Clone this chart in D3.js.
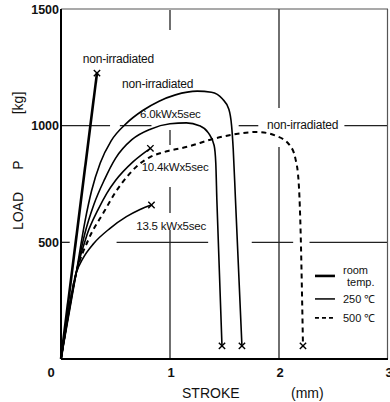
<!DOCTYPE html>
<html lang="en">
<head>
    <meta charset="UTF-8">
    <title>Load - stroke</title>
    <script src="https://d3js.org/d3.v7.min.js"></script>
    <style>
        body { margin: 0; background: #fff; }
        text {
            font-family: 'Liberation Sans', Arial, sans-serif;
            fill: #111;
        }
    </style>
</head>
<body>

<script>
    const width  = 390;
    const height = 402;
    const margin = {top: 9, right: 2, bottom: 43, left: 61};

    // curves, [stroke mm, load kg]
    const roomTemp   = [[0, 0], [0.33, 1225]];
    const nonIrr250  = [[0, 0], [0.14, 370], [0.22, 590], [0.28, 720], [0.36, 840], [0.46, 935], [0.6, 1010],
                        [0.75, 1065], [0.9, 1105], [1.05, 1132], [1.25, 1148], [1.38, 1143], [1.48, 1115],
                        [1.54, 1070], [1.565, 1000], [1.58, 900], [1.6, 690], [1.66, 56]];
    const kw60       = [[0, 0], [0.14, 370], [0.22, 540], [0.3, 660], [0.4, 770], [0.5, 860], [0.65, 940],
                        [0.82, 985], [1.0, 1008], [1.15, 1012], [1.27, 1000], [1.35, 970], [1.405, 915],
                        [1.42, 840], [1.43, 680], [1.477, 56]];
    const kw104      = [[0, 0], [0.14, 370], [0.24, 535], [0.34, 640], [0.42, 710], [0.5, 765], [0.66, 845],
                        [0.82, 903]];
    const kw135      = [[0, 0], [0.14, 370], [0.2, 430], [0.3, 495], [0.45, 560], [0.6, 610], [0.72, 640],
                        [0.83, 660]];
    const nonIrr500  = [[0, 0], [0.14, 370], [0.25, 510], [0.4, 635], [0.5, 715], [0.6, 778], [0.71, 832],
                        [0.82, 866], [0.97, 890], [1.18, 912], [1.37, 940], [1.58, 962], [1.8, 973],
                        [1.98, 955], [2.1, 915], [2.15, 860], [2.18, 760], [2.195, 600], [2.22, 56]];

    // fracture points marked with x
    const breaks = [[0.33, 1225], [0.82, 903], [0.83, 660], [1.477, 56], [1.66, 56], [2.22, 56]];

    const xTicks = [0, 1, 2, 3];
    const yTicks = [500, 1000, 1500];

    // grid pieces (broken where curves and labels pass)
    const hGrid = [
        {load: 1000, from: 0,    to: 0.45},
        {load: 1000, from: 0.54, to: 0.83},
        {load: 1000, from: 1.63, to: 1.81},
        {load: 1000, from: 2.6,  to: 3},
        {load: 500,  from: 0,    to: 0.08},
        {load: 500,  from: 0.51, to: 1.35},
        {load: 500,  from: 1.75, to: 2.13},
        {load: 500,  from: 2.28, to: 3}
    ];
    const vGrid = [
        {stroke: 1, from: 1410, to: 1496},
        {stroke: 1, from: 917,  to: 981},
        {stroke: 1, from: 626,  to: 737},
        {stroke: 1, from: 0,    to: 553},
        {stroke: 2, from: 1076, to: 1500},
        {stroke: 2, from: 0,    to: 909}
    ];

    const labels = [
        {text: "non-irradiated", x: 0.2,  y: 1269, size: 12},
        {text: "non-irradiated", x: 0.56, y: 1161, size: 12},
        {text: "6.0kWx5sec",     x: 0.725, y: 1033, size: 11.5},
        {text: "10.4kWx5sec",    x: 0.74, y: 805, size: 11.5},
        {text: "13.5 kWx5sec",   x: 0.69, y: 553, size: 11.5},
        {text: "non-irradiated", x: 1.89, y: 986, size: 12}
    ];

    const legendNames = ["room", "250 \u2103", "500 \u2103"];

    const scaleX = d3.scaleLinear()
                     .domain([0, 3])
                     .range([margin.left, width - margin.right]);

    const scaleY = d3.scaleLinear()
                     .domain([0, 1500])
                     .range([height - margin.bottom, margin.top]);

    const svg = d3.select("body")
                  .append("svg").attr("width", width).attr("height", height);

    // grid
    svg.selectAll(".hgrid").data(hGrid).enter().append("line")
        .attr("x1", d => scaleX(d.from)).attr("x2", d => scaleX(d.to))
        .attr("y1", d => scaleY(d.load)).attr("y2", d => scaleY(d.load))
        .attr("stroke", "#222").attr("stroke-width", 1.3);

    svg.selectAll(".vgrid").data(vGrid).enter().append("line")
        .attr("x1", d => scaleX(d.stroke)).attr("x2", d => scaleX(d.stroke))
        .attr("y1", d => scaleY(d.from)).attr("y2", d => scaleY(d.to))
        .attr("stroke", "#222").attr("stroke-width", 1.3);

    // frame
    svg.append("line")
        .attr("x1", scaleX(0)).attr("x2", scaleX(3))
        .attr("y1", scaleY(1500)).attr("y2", scaleY(1500))
        .attr("stroke", "#555").attr("stroke-width", 1.2);
    svg.append("line")
        .attr("x1", scaleX(3) - 0.5).attr("x2", scaleX(3) - 0.5)
        .attr("y1", scaleY(1500)).attr("y2", scaleY(0))
        .attr("stroke", "#555").attr("stroke-width", 1.2);
    svg.append("line")
        .attr("x1", scaleX(0)).attr("x2", scaleX(0))
        .attr("y1", scaleY(1500)).attr("y2", scaleY(0))
        .attr("stroke", "#000").attr("stroke-width", 2);
    svg.append("line")
        .attr("x1", scaleX(0)).attr("x2", scaleX(3))
        .attr("y1", scaleY(0)).attr("y2", scaleY(0))
        .attr("stroke", "#000").attr("stroke-width", 2);

    // tick labels
    svg.selectAll(".xt").data(xTicks).enter().append("text")
        .text(d => d)
        .attr("x", d => d === 0 ? scaleX(d) - 10 : scaleX(d) + 1)
        .attr("y", scaleY(0) + 18)
        .attr("text-anchor", "middle")
        .style("font-size", "13px")
        .style("font-weight", "bold");

    svg.selectAll(".yt").data(yTicks).enter().append("text")
        .text(d => d)
        .attr("x", scaleX(0) - 2)
        .attr("y", d => scaleY(d))
        .attr("dy", "0.36em")
        .attr("text-anchor", "end")
        .style("font-size", "12.5px")
        .style("font-weight", "bold");

    // curves
    const line = d3.line()
                   .x(d => scaleX(d[0]))
                   .y(d => scaleY(d[1]))
                   .curve(d3.curveMonotoneX);

    const curves = [
        {data: roomTemp,  w: 2.6, dash: null},
        {data: nonIrr250, w: 1.6, dash: null},
        {data: kw60,      w: 1.6, dash: null},
        {data: kw104,     w: 1.6, dash: null},
        {data: kw135,     w: 1.6, dash: null},
        {data: nonIrr500, w: 2,   dash: "5,4"}
    ];

    svg.selectAll(".curve").data(curves).enter().append("path")
        .attr("d", d => line(d.data))
        .attr("fill", "none")
        .attr("stroke", "#000")
        .attr("stroke-width", d => d.w)
        .attr("stroke-dasharray", d => d.dash);

    svg.selectAll(".brk").data(breaks).enter().append("path")
        .attr("d", d3.symbol().type(d3.symbolX).size(28))
        .attr("transform", d => "translate(" + [scaleX(d[0]), scaleY(d[1])] + ")")
        .attr("fill", "none")
        .attr("stroke", "#000")
        .attr("stroke-width", 1.4);

    // labels
    svg.selectAll(".lbl").data(labels).enter().append("text")
        .text(d => d.text)
        .attr("x", d => scaleX(d.x))
        .attr("y", d => scaleY(d.y))
        .style("font-size", d => d.size + "px")
        .style("letter-spacing", "-0.2px");

    // legend
    const lg = svg.append("g").attr("transform", "translate(" + [scaleX(2.33), scaleY(356)] + ")");
    const legendStyle = [{w: 2.6, dash: null}, {w: 1.5, dash: null}, {w: 1.8, dash: "4,3"}];
    const legendY = [0, 23, 42];
    legendStyle.forEach((s, i) => {
        lg.append("line")
            .attr("x1", 0).attr("x2", 20)
            .attr("y1", legendY[i]).attr("y2", legendY[i])
            .attr("stroke", "#000").attr("stroke-width", s.w)
            .attr("stroke-dasharray", s.dash);
        lg.append("text")
            .text(legendNames[i])
            .attr("x", 28)
            .attr("y", legendY[i] + (i === 0 ? -2 : 4))
            .style("font-size", "11px");
    });
    lg.append("text").text("temp.")
        .attr("x", 32).attr("y", 10)
        .style("font-size", "11px");

    // axis titles
    svg.append("text").text("STROKE")
        .attr("x", 182).attr("y", 398)
        .style("font-size", "14px");
    svg.append("text").text("(mm)")
        .attr("x", 291).attr("y", 398)
        .style("font-size", "14px");

    const yTitles = [{t: "LOAD", c: 211}, {t: "P", c: 165}, {t: "[kg]", c: 103}];
    yTitles.forEach(d => {
        svg.append("text").text(d.t)
            .attr("transform", "translate(23," + d.c + ") rotate(-90)")
            .attr("text-anchor", "middle")
            .style("font-size", "14px");
    });

</script>

</body>
</html>
